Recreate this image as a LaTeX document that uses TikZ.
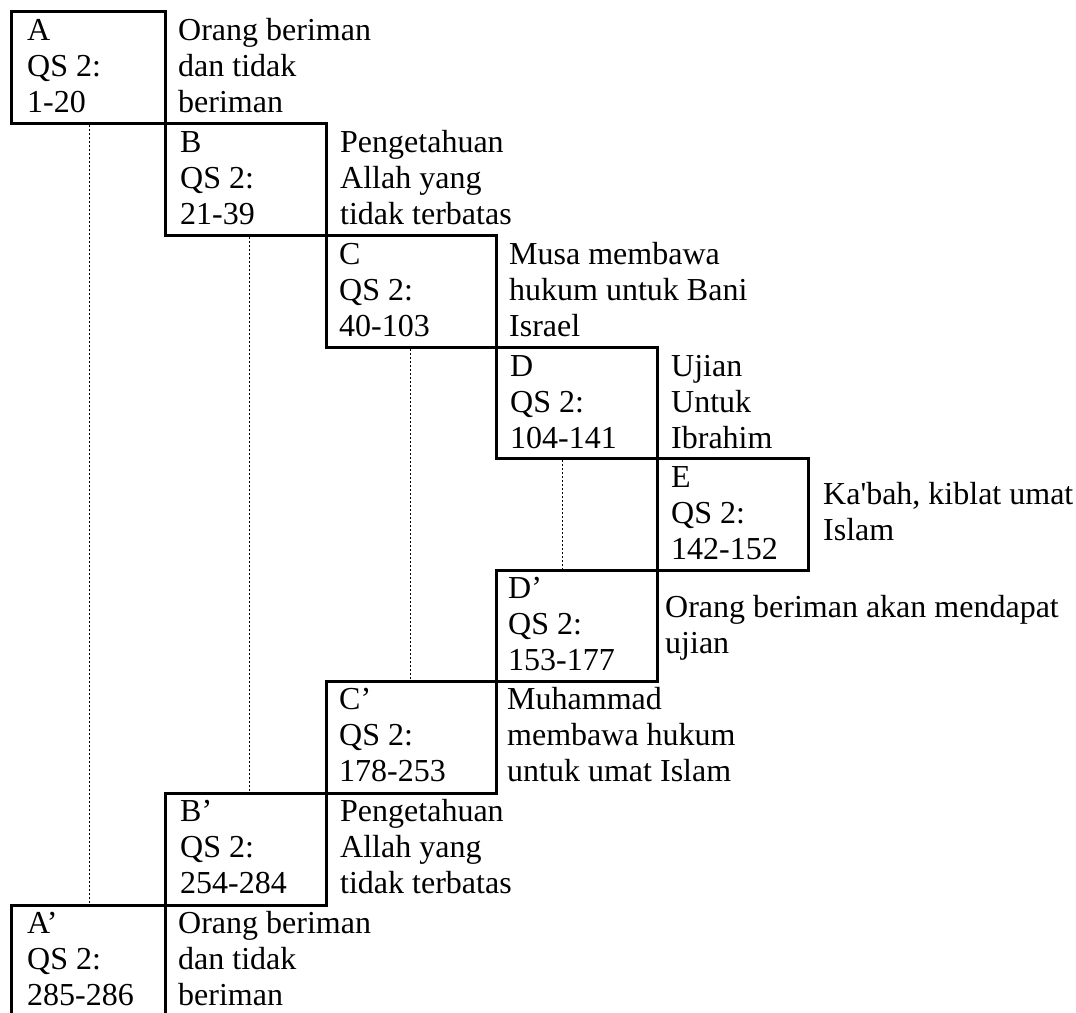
\documentclass[tikz,border=0pt]{standalone}
\usepackage{fontspec}
\newfontfamily\diagfont{Liberation Serif}
\newcommand\mylines[1]{\begin{tabular}[t]{@{}l@{}}#1\end{tabular}}
\begin{document}
\begin{tikzpicture}[x=1pt,y=-1pt,
  box/.style={draw, line width=2.8pt, inner sep=0pt, anchor=north west},
  txt/.style={anchor=base west, inner sep=0pt, font=\diagfont\fontsize{32}{36}\selectfont},
  guide/.style={line width=1pt, dash pattern=on 2.5pt off 1.5pt}]
\useasboundingbox[fill=white] (0,0) rectangle (1076,1012);
% boxes
\node[box, minimum width=154pt, minimum height=112pt] (A)  at (10,10) {};
\node[box, minimum width=161pt, minimum height=112pt] (B)  at (164,122) {};
\node[box, minimum width=170pt, minimum height=112pt] (C)  at (325,234) {};
\node[box, minimum width=161pt, minimum height=111pt] (D)  at (495,346) {};
\node[box, minimum width=151pt, minimum height=112pt] (E)  at (656,457) {};
\node[box, minimum width=161pt, minimum height=111pt] (D2) at (495,569) {};
\node[box, minimum width=170pt, minimum height=112pt] (C2) at (325,680) {};
\node[box, minimum width=161pt, minimum height=112pt] (B2) at (164,792) {};
\node[box, minimum width=154pt, minimum height=130pt] (A2) at (10,904) {};
% box labels
\node[txt] (At)  at (27,40)   {\mylines{A\\QS 2:\\1-20}};
\node[txt] (Bt)  at (180,152) {\mylines{B\\QS 2:\\21-39}};
\node[txt] (Ct)  at (339,264) {\mylines{C\\QS 2:\\40-103}};
\node[txt] (Dt)  at (510,376) {\mylines{D\\QS 2:\\104-141}};
\node[txt] (Et)  at (671,487) {\mylines{E\\QS 2:\\142-152}};
\node[txt] (D2t) at (508,598) {\mylines{D’\\QS 2:\\153-177}};
\node[txt] (C2t) at (339,709) {\mylines{C’\\QS 2:\\178-253}};
\node[txt] (B2t) at (180,821) {\mylines{B’\\QS 2:\\254-284}};
\node[txt] (A2t) at (27,933)  {\mylines{A’\\QS 2:\\285-286}};
% descriptions
\node[txt] (Ad)  at (178,40)  {\mylines{Orang beriman\\dan tidak\\beriman}};
\node[txt] (Bd)  at (340,152) {\mylines{Pengetahuan\\Allah yang\\tidak terbatas}};
\node[txt] (Cd)  at (509,264) {\mylines{Musa membawa\\hukum untuk Bani\\Israel}};
\node[txt] (Dd)  at (671,376) {\mylines{Ujian\\Untuk\\Ibrahim}};
\node[txt] (Ed)  at (823,504) {\mylines{Ka'bah, kiblat umat\\Islam}};
\node[txt] (D2d) at (665,617) {\mylines{Orang beriman akan mendapat\\ujian}};
\node[txt] (C2d) at (507,709) {\mylines{Muhammad\\membawa hukum\\untuk umat Islam}};
\node[txt] (B2d) at (340,821) {\mylines{Pengetahuan\\Allah yang\\tidak terbatas}};
\node[txt] (A2d) at (178,933) {\mylines{Orang beriman\\dan tidak\\beriman}};
% dotted guides
\draw[guide] (A.south west) ++(79,0) coordinate (ga) -- (ga |- A2.north);
\draw[guide] (B.south west) ++(85,0) coordinate (gb) -- (gb |- B2.north);
\draw[guide] (C.south west) ++(85,0) coordinate (gc) -- (gc |- C2.north);
\draw[guide] (D.south west) ++(67,0) coordinate (gd) -- (gd |- D2.north);
\end{tikzpicture}
\end{document}
